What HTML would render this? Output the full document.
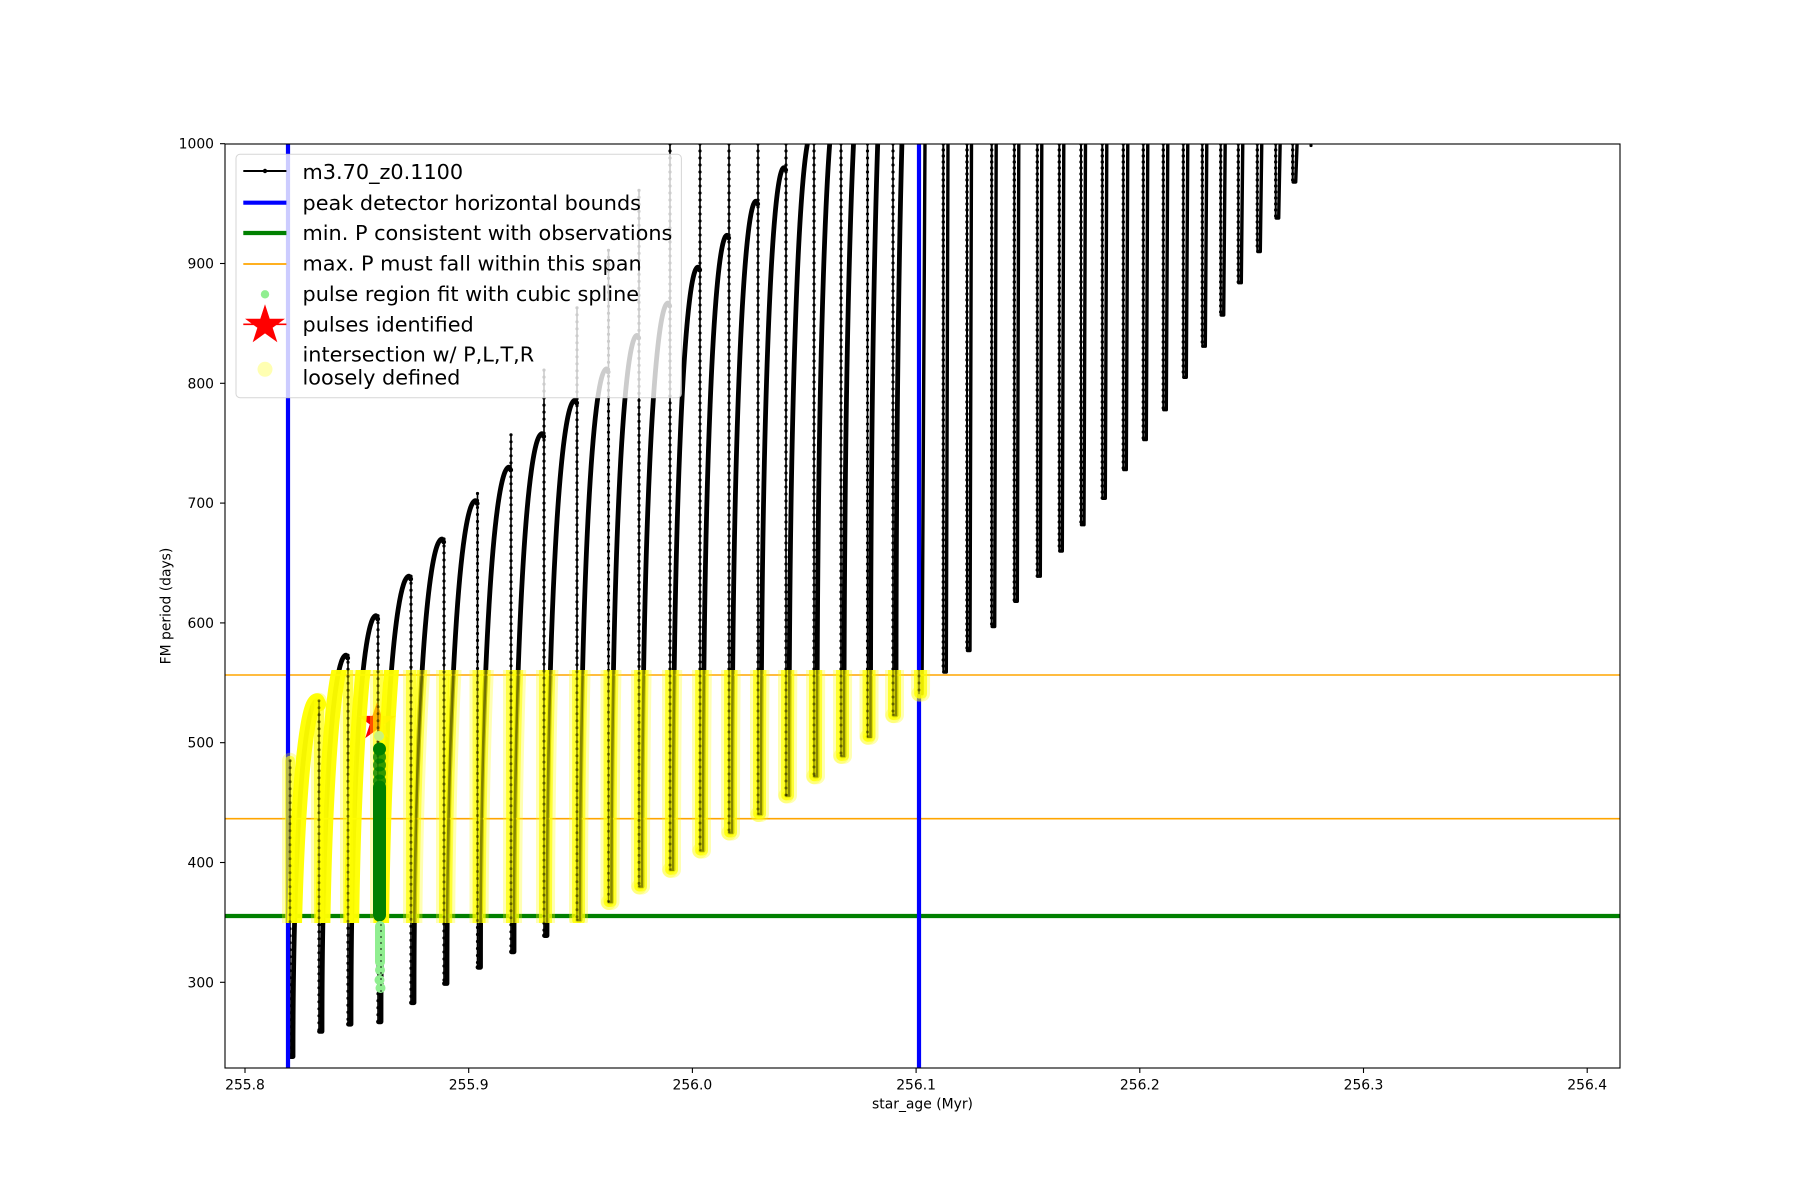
<!DOCTYPE html>
<html>
<head>
<meta charset="utf-8">
<style>
  html,body{margin:0;padding:0;background:#fff;}
  svg{display:block;}
  text{font-family:"DejaVu Sans","Liberation Sans",sans-serif;fill:#000;}
  .tick{font-size:13.9px;}
  .leg{font-size:20.8px;}
</style>
</head>
<body>
<svg width="1800" height="1200" viewBox="0 0 1800 1200" xmlns="http://www.w3.org/2000/svg">
<defs>
  <clipPath id="ax"><rect x="225" y="144" width="1395" height="924"/></clipPath>
  <clipPath id="yr"><rect x="225" y="670" width="710" height="253"/></clipPath>
  <path id="arcsDense" d="M290.5,1056.6 L293,1056.6 C293,843.1 304,700.8 317,700.8 L318.7,704
M319.5,1031.4 L322,1031.4 C322,805.7 333,655.2 346,655.2 L347.7,658
M348.5,1024.2 L351,1024.2 C351,779.1 362.5,615.7 376,615.7 L377.7,619
M378.5,1021.8 L381,1021.8 C381,754.4 394.1,576.2 409,576.2 L410.7,579"/>
  <path id="arcsLate" d="M411.5,1002.7 L414,1002.7 C414,724.5 427.1,539 442,539 L443.7,542
M444.5,983.5 L447,983.5 C447,693.8 460.4,500.7 475.5,500.7 L477.2,503.5
M478,967.3 L480.5,967.3 C480.5,667.2 493.9,467.2 509,467.2 L510.7,470
M511.5,951.8 L514,951.8 C514,640.9 527.1,433.6 542,433.6 L543.7,436.5
M544.5,935.6 L547,935.6 C547,614.3 560.1,400.1 575,400.1 L576.7,403
M577.5,920 L580,920 C580,589.3 592.3,368.9 606.5,368.9 L608.2,372
M609,902 L611.5,902 C611.5,562 623.3,335.4 637,335.4 L638.7,338
M639.5,886.5 L642,886.5 C642,536.4 654,303 668,303 L669.7,306
M670.5,869.7 L673,869.7 C673,508.1 684.5,267.1 698,267.1 L699.7,270
M700.5,850.5 L703,850.5 C703,481.4 714,235.3 727,235.3 L728.7,238
M729.5,832.5 L732,832.5 C732,453.7 743,201.2 756,201.2 L757.7,204
M758.5,814 L761,814 C761,426.2 771.4,167.7 784,167.7 L785.7,170
M786.5,795.4 L789,795.4 C789,397.2 799.4,131.7 812,131.7
M814.5,776.2 L817,776.2 C817,360.8 826.9,83.8 839,83.8
M841.5,755.9 L844,755.9 C844,320.3 853.6,29.9 865.5,29.9
M868,736.7 L870.5,736.7 C870.5,280.3 879.5,-24 891,-24
M893.5,715.1 L896,715.1 C896,235.6 905.3,-84 917,-84"/>
  <path id="legs" d="M919.5,693.6 L922,693.6 L925,140
M943.8,672 L946.3,672 L948,140
M967.5,650.5 L970,650.5 L971.5,140
M992.2,626.5 L994.7,626.5 L996.2,140
M1014.8,601.3 L1017.3,601.3 L1018.8,140
M1037.8,576.2 L1040.3,576.2 L1041.8,140
M1059.8,551 L1062.3,551 L1063.8,140
M1081.5,524.7 L1084,524.7 L1085.5,140
M1102.8,498.3 L1105.3,498.3 L1106.8,140
M1123.8,469.6 L1126.3,469.6 L1127.8,140
M1143.8,439.6 L1146.3,439.6 L1147.8,140
M1163.8,409.7 L1166.3,409.7 L1167.8,140
M1183.8,377.3 L1186.3,377.3 L1187.8,140
M1202.8,346.2 L1205.3,346.2 L1206.8,140
M1221.2,315 L1223.7,315 L1225.2,140
M1238.8,282.7 L1241.3,282.7 L1242.8,140
M1257.8,251.5 L1260.3,251.5 L1261.8,140
M1276.2,218 L1278.7,218 L1280.2,140
M1293.2,182 L1295.7,182 L1297.2,140"/>
  <path id="dropsA" d="M290,760.7V1056.6 M319,700.8V1031.4 M348,655.2V1024.2 M378,615.7V1021.8 M411,576.2V1002.7 M444,539V983.5 M477.5,493.5V967.3 M511,434.8V951.8 M544,370.1V935.6 M577,307.8V920 M608.5,250.3V902 M639,190.4V886.5 M670,144V869.7 M700,144V850.5 M729,144V832.5 M758,144V814 M786,144V795.4 M814,144V776.2 M841,144V755.9 M867.5,144V736.7 M893,144V715.1 M919,144V693.6"/>
  <path id="dropsB" d="M943.3,144V672 M967,144V650.5 M991.7,144V626.5 M1014.3,144V601.3 M1037.3,144V576.2 M1059.3,144V551 M1081,144V524.7 M1102.3,144V498.3 M1123.3,144V469.6 M1143.3,144V439.6 M1163.3,144V409.7 M1183.3,144V377.3 M1202.3,144V346.2 M1220.7,144V315 M1238.3,144V282.7 M1257.3,144V251.5 M1275.7,144V218 M1292.7,144V182"/>
</defs>

<rect x="0" y="0" width="1800" height="1200" fill="#fff"/>

<!-- black data -->
<g clip-path="url(#ax)" fill="none" stroke="#000" stroke-linejoin="round" stroke-linecap="round">
  <use href="#arcsDense" stroke-width="4.8"/>
  <use href="#arcsLate" stroke-width="4.8"/>
  <use href="#legs" stroke-width="3.4"/>
  <use href="#dropsA" stroke-width="1.6"/>
  <use href="#dropsB" stroke-width="2"/>
  <use href="#dropsA" stroke-width="3.2" stroke-dasharray="0 7"/>
  <use href="#dropsB" stroke-width="3.4" stroke-dasharray="0 6"/>
  <circle cx="1311" cy="145.5" r="1.6" fill="#000" stroke="none"/>
</g>

<!-- red star (pulse identified) -->
<polygon points="377,702 381.49,715.82 396.02,715.82 384.27,724.36 388.76,738.18 377,729.64 365.24,738.18 369.73,724.36 357.98,715.82 372.51,715.82" fill="#ff0000"/>

<!-- reference lines -->
<g clip-path="url(#ax)">
  <line x1="225" y1="675" x2="1620" y2="675" stroke="#ffa500" stroke-width="1.6"/>
  <line x1="225" y1="818.7" x2="1620" y2="818.7" stroke="#ffa500" stroke-width="1.6"/>
  <line x1="225" y1="916" x2="1620" y2="916" stroke="#008000" stroke-width="4.2"/>
  <line x1="288" y1="144" x2="288" y2="1068" stroke="#0000ff" stroke-width="4.2"/>
  <line x1="919" y1="144" x2="919" y2="1068" stroke="#0000ff" stroke-width="4.2"/>
</g>

<!-- yellow intersection markers -->
<g clip-path="url(#yr)" fill="none" stroke="#ffff00" stroke-linecap="round" stroke-linejoin="round">
  <use href="#arcsDense" stroke-width="15" stroke-opacity="0.96"/>
  <use href="#arcsLate" stroke-width="16" stroke-opacity="0.3"/>
  <use href="#dropsA" stroke-width="16" stroke-opacity="0.3"/>
  <use href="#legs" stroke-width="16" stroke-opacity="0.3"/>
  <use href="#arcsLate" stroke-width="10" stroke-opacity="0.6"/>
  <use href="#dropsA" stroke-width="10" stroke-opacity="0.6"/>
  <use href="#legs" stroke-width="10" stroke-opacity="0.6"/>
</g>
<g clip-path="url(#yr)" fill="none" stroke="#000" stroke-opacity="0.42" stroke-linecap="round">
  <use href="#arcsLate" stroke-width="2.6"/>
  <use href="#dropsA" stroke-width="1.4"/>
  <use href="#dropsA" stroke-width="3" stroke-dasharray="0 7"/>
</g>

<!-- green pulse region -->
<circle cx="379" cy="736" r="5" fill="#ccf27a"/>
<g fill="#008000">
  <circle cx="379.5" cy="749" r="6.5"/>
  <circle cx="379.5" cy="757" r="6.5" fill-opacity="0.8"/>
  <circle cx="379.5" cy="765" r="6.5" fill-opacity="0.8"/>
  <circle cx="379.5" cy="773" r="6.5" fill-opacity="0.8"/>
  <circle cx="379.5" cy="781" r="6.5" fill-opacity="0.85"/>
</g>
<line x1="379.5" y1="787" x2="379.5" y2="915" stroke="#008000" stroke-width="13" stroke-linecap="round"/>
<line x1="380" y1="926" x2="380" y2="962" stroke="#90ee90" stroke-width="10" stroke-linecap="round"/>
<circle cx="380" cy="970" r="5" fill="#90ee90"/>
<circle cx="379.5" cy="980" r="5" fill="#90ee90"/>
<circle cx="380.5" cy="988" r="5" fill="#90ee90"/>
<line x1="381" y1="924" x2="381" y2="1000" stroke="#000" stroke-width="1.3" stroke-opacity="0.7" stroke-dasharray="2 4"/>

<!-- axes spines -->
<rect x="225" y="144" width="1395" height="924" fill="none" stroke="#000" stroke-width="1.1"/>

<!-- x ticks -->
<g stroke="#000" stroke-width="1.1">
  <line x1="245" y1="1068" x2="245" y2="1073"/>
  <line x1="468.7" y1="1068" x2="468.7" y2="1073"/>
  <line x1="692.4" y1="1068" x2="692.4" y2="1073"/>
  <line x1="916.1" y1="1068" x2="916.1" y2="1073"/>
  <line x1="1139.8" y1="1068" x2="1139.8" y2="1073"/>
  <line x1="1363.5" y1="1068" x2="1363.5" y2="1073"/>
  <line x1="1587.2" y1="1068" x2="1587.2" y2="1073"/>
</g>
<g class="tick" text-anchor="middle">
  <text x="245" y="1089.3">255.8</text>
  <text x="468.7" y="1089.3">255.9</text>
  <text x="692.4" y="1089.3">256.0</text>
  <text x="916.1" y="1089.3">256.1</text>
  <text x="1139.8" y="1089.3">256.2</text>
  <text x="1363.5" y="1089.3">256.3</text>
  <text x="1587.2" y="1089.3">256.4</text>
</g>
<text class="tick" x="922.5" y="1108.3" text-anchor="middle">star_age (Myr)</text>

<!-- y ticks -->
<g stroke="#000" stroke-width="1.1">
  <line x1="220" y1="143.7" x2="225" y2="143.7"/>
  <line x1="220" y1="263.5" x2="225" y2="263.5"/>
  <line x1="220" y1="383.3" x2="225" y2="383.3"/>
  <line x1="220" y1="503.1" x2="225" y2="503.1"/>
  <line x1="220" y1="622.9" x2="225" y2="622.9"/>
  <line x1="220" y1="742.7" x2="225" y2="742.7"/>
  <line x1="220" y1="862.5" x2="225" y2="862.5"/>
  <line x1="220" y1="982.3" x2="225" y2="982.3"/>
</g>
<g class="tick" text-anchor="end">
  <text x="214" y="148.7">1000</text>
  <text x="214" y="268.5">900</text>
  <text x="214" y="388.3">800</text>
  <text x="214" y="508.1">700</text>
  <text x="214" y="627.9">600</text>
  <text x="214" y="747.7">500</text>
  <text x="214" y="867.5">400</text>
  <text x="214" y="987.3">300</text>
</g>
<text class="tick" transform="translate(170.5,606) rotate(-90)" text-anchor="middle">FM period (days)</text>

<!-- legend -->
<rect x="236" y="154.3" width="445.4" height="243.4" rx="4" ry="4" fill="#ffffff" fill-opacity="0.8" stroke="#cccccc" stroke-opacity="0.8" stroke-width="1"/>
<line x1="243.3" y1="171" x2="286.4" y2="171" stroke="#000" stroke-width="2.1"/>
<circle cx="265" cy="171" r="2.2" fill="#000"/>
<line x1="243.3" y1="202.7" x2="286.4" y2="202.7" stroke="#0000ff" stroke-width="4.2"/>
<line x1="243.3" y1="233" x2="286.4" y2="233" stroke="#008000" stroke-width="4.2"/>
<line x1="243.3" y1="264" x2="286.4" y2="264" stroke="#ffa500" stroke-width="1.7"/>
<circle cx="265" cy="294.3" r="4.2" fill="#90ee90"/>
<line x1="243.3" y1="324.3" x2="286.4" y2="324.3" stroke="#ff0000" stroke-width="1.6"/>
<polygon points="265,304.3 269.71,318.81 284.97,318.81 272.63,327.78 277.34,342.29 265,333.32 252.66,342.29 257.37,327.78 245.03,318.81 260.29,318.81" fill="#ff0000"/>
<circle cx="265" cy="369.3" r="7.5" fill="#ffff00" fill-opacity="0.3"/>
<g class="leg">
  <text x="302.5" y="179">m3.70_z0.1100</text>
  <text x="302.5" y="210">peak detector horizontal bounds</text>
  <text x="302.5" y="240">min. P consistent with observations</text>
  <text x="302.5" y="270.7">max. P must fall within this span</text>
  <text x="302.5" y="301">pulse region fit with cubic spline</text>
  <text x="302.5" y="331.7">pulses identified</text>
  <text x="302.5" y="361.7">intersection w/ P,L,T,R</text>
  <text x="302.5" y="384.3">loosely defined</text>
</g>
</svg>
</body>
</html>
